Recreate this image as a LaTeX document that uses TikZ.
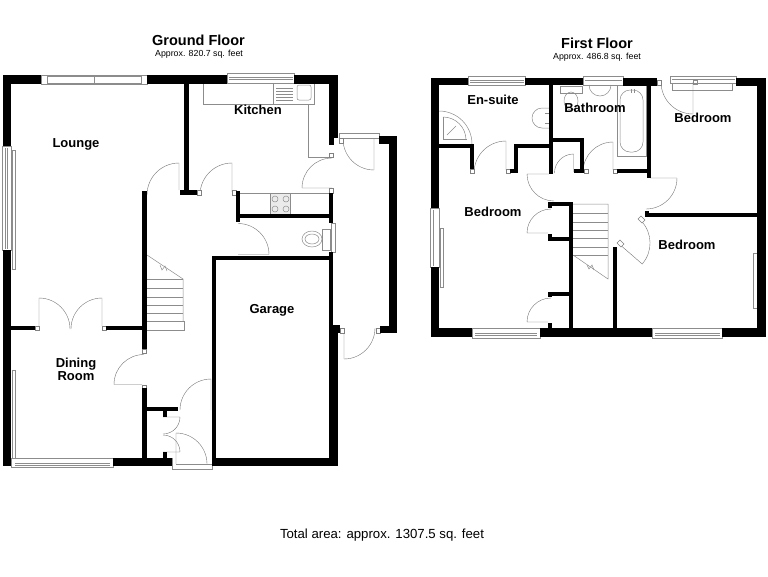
\documentclass[tikz,border=0pt]{standalone}
\usepackage{fontspec}
\setmainfont{Liberation Sans}
\tikzset{wall/.style={fill=black,draw=none}}
\tikzset{fitting/.style={draw=black!45,line width=0.5pt}}
\tikzset{swing/.style={draw=black!55,line width=0.4pt}}
\tikzset{pane/.style={draw=black!45,fill=white,line width=0.5pt}}
\tikzset{jamb/.style={draw=black!50,fill=white,line width=0.4pt}}
\tikzset{room/.style={font=\bfseries\fontsize{13}{13}\selectfont,align=center,inner sep=0pt}}
\tikzset{title/.style={font=\bfseries\fontsize{14.5}{15}\selectfont,inner sep=0pt}}
\tikzset{area/.style={font=\fontsize{8.8}{10}\selectfont,inner sep=0pt}}

\begin{document}
\begin{tikzpicture}[x=1pt,y=-1pt]
	\useasboundingbox (0,0) rectangle (768,576);

	\node[title](groundtitle) at (198.5,40.5){Ground Floor};
	\node[area](groundarea) at (199,54){Approx. 820.7 sq. feet};
	\node[title](firsttitle) at (597,43.5){First Floor};
	\node[area](firstarea) at (597,57){Approx. 486.8 sq. feet};
	\node[font=\fontsize{13.2}{14}\selectfont,inner sep=0pt](totalarea) at (382,535){Total area: approx. 1307.5 sq. feet};

	% ground floor windows
	\draw[pane] (41,75) rectangle (147,84);
	\draw[fitting] (47,75) -- (47,84) (94,76) -- (94,83) (141,75) -- (141,84) (47,76) -- (141,76) (47,83) -- (141,83);
	\draw[pane] (227,73) rectangle (294,83);
	\draw[fitting] (229,77) -- (293,77) (229,79) -- (293,79);
	\draw[pane] (2,146) rectangle (11,250);
	\draw[fitting] (5,148) -- (5,249) (7,148) -- (7,249);
	\draw[fitting] (12,150) rectangle (15,269);
	\draw[fitting] (12,370) -- (12,458) (15,370) -- (15,458) (12,370) -- (15,370);
	\draw[pane] (11,458) rectangle (113,467);
	\draw[fitting] (15,463) -- (110,463) (15,465) -- (110,465);
	\draw[pane] (331,223) rectangle (335,252);

	% kitchen
	\draw[fitting] (203,83) -- (203,104) -- (308,104) -- (308,157) -- (329,157);
	\draw[fitting] (308,104) -- (314,104) -- (314,84);
	\draw[fitting] (273,84) -- (273,104);
	\draw[fitting] (276,88) -- (293,88) (276,91) -- (293,91) (276,94) -- (293,94) (276,97) -- (293,97) (276,100) -- (293,100);
	\draw[fitting,rounded corners=2pt] (297,85) rectangle (311,100);
	\draw[fitting] (240,193) -- (329,193);
	\draw[fitting,fill=black!8] (270,193) rectangle (290,214);
	\draw[fitting] (275,199) circle (3);
	\draw[fitting] (286,199) circle (3);
	\draw[fitting] (275,209) circle (3);
	\draw[fitting] (286,209) circle (3);

	% cloakroom
	\draw[fitting] (312,239) ellipse (10 and 8);
	\draw[fitting] (312,239) ellipse (7 and 5);
	\draw[fitting] (322,229) rectangle (330,250);

	% ground floor stairs
	\draw[fitting] (147,255) -- (183,279) -- (183,321);
	\draw[fitting] (147,279) -- (183,279);
	\draw[fitting] (147,288) -- (183,288);
	\draw[fitting] (147,297) -- (183,297);
	\draw[fitting] (147,305) -- (183,305);
	\draw[fitting] (147,313) -- (183,313);
	\draw[fitting] (147,321) -- (184,321) -- (184,330) -- (147,330);
	\draw[fitting] (160,265) -- (162,270) -- (165,266) -- (167,271);

	% ground floor doors
	\draw[swing] (39,326) -- (39,298) arc[start angle=-90,end angle=0,radius=31];
	\draw[swing] (102,326) -- (102,298) arc[start angle=-90,end angle=-180,radius=31];
	\draw[swing] (142,384.5) -- (114,384.5) arc[start angle=180,end angle=270,radius=30];
	\draw[swing] (211,410) -- (211,379) arc[start angle=-90,end angle=-180,radius=31];
	\draw[swing] (176,464) -- (176,433) arc[start angle=-90,end angle=0,radius=31];
	\draw[fitting] (172,458) -- (172,469) -- (212,469) -- (212,458);
	\draw[fitting] (176,464) -- (212,464);
	\draw[swing] (163,417) -- (180,417) arc[start angle=0,end angle=90,radius=17];
	\draw[swing] (163,452) -- (180,452) arc[start angle=0,end angle=-90,radius=17];
	\draw[swing] (232,192) -- (232,163) arc[start angle=-90,end angle=-180,radius=32];
	\draw[swing] (179,190) -- (179,163) arc[start angle=-90,end angle=-180,radius=32];
	\draw[swing] (238,254.5) -- (269,254.5) arc[start angle=0,end angle=-90,radius=31];
	\draw[swing] (332,188) -- (302,188) arc[start angle=180,end angle=270,radius=30];
	\draw[swing] (374,139) -- (374,170) arc[start angle=90,end angle=180,radius=31];
	\draw[swing] (344,328) -- (344,359) arc[start angle=90,end angle=0,radius=31];
	\draw[pane] (339,133) rectangle (379,138);
	\draw[jamb] (35,326) rectangle (39,330);
	\draw[jamb] (102,326) rectangle (106,330);
	\draw[jamb] (142,349) rectangle (146,353);
	\draw[jamb] (142,385) rectangle (146,388);
	\draw[jamb] (197,190) rectangle (201,195);
	\draw[jamb] (232,190) rectangle (236,195);
	\draw[jamb] (329,153) rectangle (333,157);
	\draw[jamb] (329,188) rectangle (333,193);
	\draw[jamb] (339,138) rectangle (343,143);
	\draw[jamb] (340,328) rectangle (344,333);
	\draw[jamb] (376,328) rectangle (380,333);

	% ground floor walls
	\fill[wall] (3,75) rectangle (41,84);
	\fill[wall] (3,75) rectangle (11,146);
	\fill[wall] (3,250) rectangle (11,466);
	\fill[wall] (147,75) rectangle (227,84);
	\fill[wall] (294,75) rectangle (338,84);
	\fill[wall] (329,75) rectangle (338,138);
	\fill[wall] (329,138) rectangle (334,145);
	\fill[wall] (184,84) rectangle (189,191);
	\fill[wall] (180,190) rectangle (197,195);
	\fill[wall] (142,191) rectangle (147,349);
	\fill[wall] (142,388) rectangle (147,458);
	\fill[wall] (11,326) rectangle (35,330);
	\fill[wall] (106,326) rectangle (142,330);
	\fill[wall] (113,458) rectangle (172,466);
	\fill[wall] (147,407) rectangle (178,411);
	\fill[wall] (163,411) rectangle (167,417);
	\fill[wall] (163,452) rectangle (167,458);
	\fill[wall] (236,191) rectangle (240,222);
	\fill[wall] (240,214) rectangle (329,218);
	\fill[wall] (329,193) rectangle (333,223);
	\fill[wall] (329,252) rectangle (333,325);
	\fill[wall] (212,256) rectangle (333,260);
	\fill[wall] (212,256) rectangle (216,466);
	\fill[wall] (212,458) rectangle (338,466);
	\fill[wall] (329,325) rectangle (340,333);
	\fill[wall] (329,333) rectangle (338,466);
	\fill[wall] (379,136) rectangle (397,144);
	\fill[wall] (389,136) rectangle (397,333);
	\fill[wall] (380,326) rectangle (397,333);

	% first floor windows
	\draw[pane] (468,76) rectangle (525,85);
	\draw[fitting] (470,80) -- (524,80) (470,82) -- (524,82);
	\draw[pane] (583,76) rectangle (623,85);
	\draw[fitting] (585,80) -- (622,80);
	\draw[pane] (670,76) rectangle (736,83);
	\draw[fitting] (672,83) -- (672,90) -- (732,90) -- (732,83);
	\draw[fitting] (672,79) -- (735,79);
	\draw[fitting] (693,80) rectangle (697,84);
	\draw[pane] (430,208) rectangle (439,267);
	\draw[fitting] (433,210) -- (433,266);
	\draw[fitting] (440,228) rectangle (443,287);
	\draw[pane] (472,328) rectangle (540,338);
	\draw[fitting] (475,333) -- (537,333) (475,335) -- (537,335);
	\draw[pane] (652,328) rectangle (722,338);
	\draw[fitting] (655,333) -- (720,333) (655,335) -- (720,335);
	\draw[fitting] (753,253) rectangle (757,308);

	% en-suite fittings
	\draw[fitting] (439,111) arc[start angle=-90,end angle=0,radius=33];
	\draw[fitting] (443,117) -- (443,139) -- (467,139);
	\draw[fitting] (443,117) arc[start angle=-90,end angle=0,radius=23];
	\draw[fitting] (447,135) -- (456,126);
	\draw[fitting] (549,108) -- (542,108) arc[start angle=-90,end angle=-270,radius=10] -- (549,128);
	\draw[fitting] (545,113) -- (549,113) (545,123) -- (549,123);

	% bathroom fittings
	\draw[fitting] (560,86) rectangle (582,93);
	\draw[fitting] (571,101) ellipse (7 and 9);
	\draw[fitting] (589,85) arc[start angle=180,end angle=0,radius=11];
	\draw[fitting] (617,85) rectangle (646,156);
	\draw[fitting,rounded corners=10pt] (620,90) rectangle (643,152);
	\draw[fitting] (631,89) -- (631,93) (634,89) -- (634,93);

	% first floor stairs
	\draw[fitting] (573,204) -- (608,204) -- (608,279) -- (573,255);
	\draw[fitting] (573,213) -- (608,213);
	\draw[fitting] (573,222) -- (608,222);
	\draw[fitting] (573,230) -- (608,230);
	\draw[fitting] (573,238) -- (608,238);
	\draw[fitting] (573,247) -- (608,247);
	\draw[fitting] (573,255) -- (608,255);
	\draw[fitting] (587,265) -- (589,269) -- (592,265) -- (594,270);

	% first floor doors
	\draw[swing] (506,170) -- (506,141) arc[start angle=-90,end angle=-180,radius=32];
	\draw[swing] (573.5,172) -- (573.5,154) arc[start angle=-90,end angle=-180,radius=19];
	\draw[swing] (613,170) -- (613,142) arc[start angle=-90,end angle=-180,radius=30];
	\draw[swing] (549,174) -- (527,174) arc[start angle=180,end angle=90,radius=27];
	\draw[swing] (548,233) -- (527,233) arc[start angle=180,end angle=270,radius=24];
	\draw[swing] (548,322) -- (527,322) arc[start angle=180,end angle=270,radius=24];
	\draw[swing] (650,178) -- (677,178) arc[start angle=0,end angle=90,radius=31];
	\draw[swing] (618,243) -- (642.2,264) arc[start angle=41,end angle=-43,radius=32];
	\draw[swing] (693,82) -- (693,114) arc[start angle=90,end angle=180,radius=32];
	\draw[jamb] (657,80) rectangle (661,85);
	\draw[jamb] (470,169) rectangle (474,173);
	\draw[jamb] (506,169) rectangle (510,173);
	\draw[jamb] (584,169) rectangle (588,173);
	\draw[jamb] (613,169) rectangle (617,173);
	\draw[jamb] (641,216) -- (645,220) -- (642,223) -- (638,219) -- cycle;
	\draw[jamb] (617,243) -- (620,240) -- (624,244) -- (621,247) -- cycle;

	% first floor walls
	\fill[wall] (431,78) rectangle (468,85);
	\fill[wall] (431,78) rectangle (439,208);
	\fill[wall] (431,267) rectangle (439,337);
	\fill[wall] (525,78) rectangle (583,85);
	\fill[wall] (623,78) rectangle (657,86);
	\fill[wall] (736,78) rectangle (766,86);
	\fill[wall] (757,78) rectangle (766,337);
	\fill[wall] (431,328) rectangle (472,337);
	\fill[wall] (540,328) rectangle (652,337);
	\fill[wall] (722,328) rectangle (766,337);
	\fill[wall] (549,85) rectangle (553,174);
	\fill[wall] (439,144) rectangle (474,148);
	\fill[wall] (470,144) rectangle (474,169);
	\fill[wall] (514,144) rectangle (549,148);
	\fill[wall] (514,144) rectangle (518,173);
	\fill[wall] (510,169) rectangle (518,173);
	\fill[wall] (553,138) rectangle (584,142);
	\fill[wall] (580,138) rectangle (584,169);
	\fill[wall] (574,169) rectangle (584,173);
	\fill[wall] (647,85) rectangle (651,178);
	\fill[wall] (617,169) rectangle (647,173);
	\fill[wall] (548,202) rectangle (573,206);
	\fill[wall] (569,202) rectangle (573,328);
	\fill[wall] (548,202) rectangle (552,208);
	\fill[wall] (548,237) rectangle (569,241);
	\fill[wall] (548,234) rectangle (552,241);
	\fill[wall] (548,292) rectangle (569,296);
	\fill[wall] (548,292) rectangle (552,297);
	\fill[wall] (548,323) rectangle (552,328);
	\fill[wall] (613,247) rectangle (617,328);
	\fill[wall] (645,213) rectangle (757,217);
	\fill[wall] (645,211) rectangle (649,217);

	% room names
	\node[room](lounge) at (76,144.5){Lounge};
	\node[room](kitchen) at (258,110){Kitchen};
	\node[room](dining) at (76,369){Dining\\Room};
	\node[room](garage) at (272,310){Garage};
	\node[room](ensuite) at (493,100){En-suite};
	\node[room](bathroom) at (595,108){Bathroom};
	\node[room](bedrooma) at (493,212){Bedroom};
	\node[room](bedroomb) at (703,118){Bedroom};
	\node[room](bedroomc) at (687,245){Bedroom};
\end{tikzpicture}
\end{document}
